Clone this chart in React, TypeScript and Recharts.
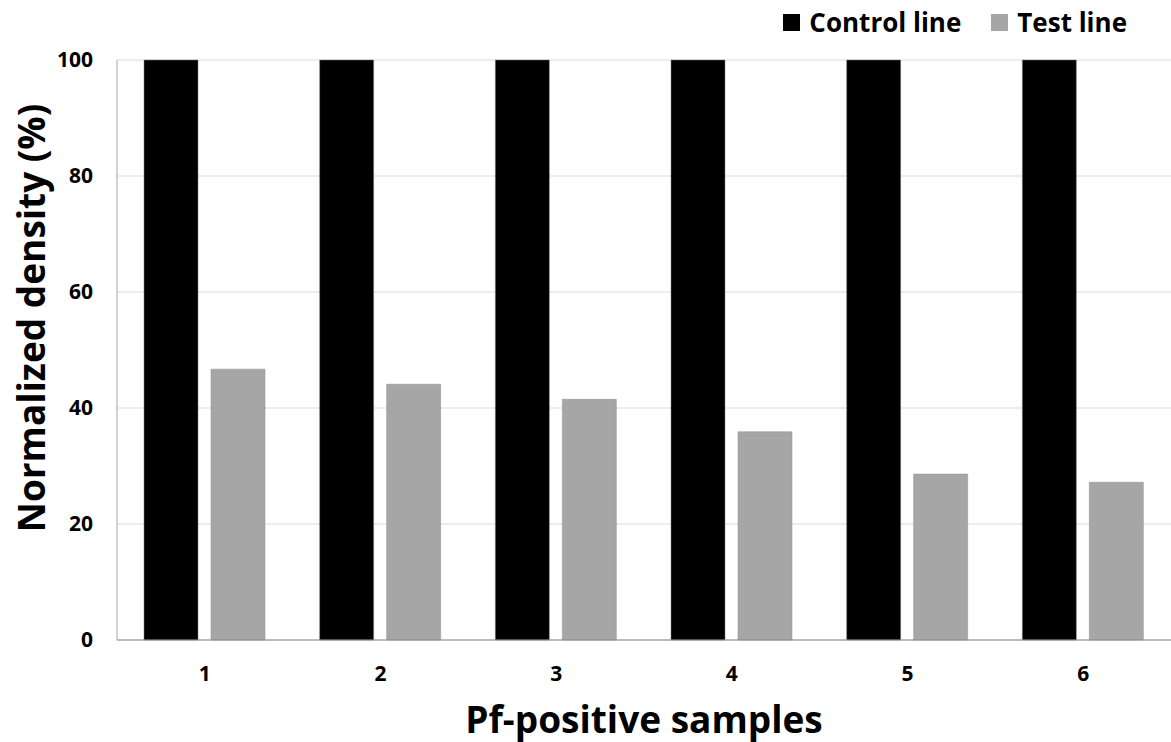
import React from 'react';
import { BarChart, Bar, XAxis, YAxis, CartesianGrid } from 'recharts';

const samples = ['1', '2', '3', '4', '5', '6'];
const controlLine = [100, 100, 100, 100, 100, 100];
const testLine = [46.7, 44.1, 41.5, 35.9, 28.6, 27.2];
const yTicks = [0, 20, 40, 60, 80, 100];
const seriesNames = ['Control line', 'Test line'];
const seriesColors = ['#000000', '#a6a6a6'];

const data = samples.map((s, i) => ({
  sample: s,
  [seriesNames[0]]: controlLine[i],
  [seriesNames[1]]: testLine[i],
}));

const FONT = '"Open Sans", "Noto Sans", sans-serif';
const titleStyle = { fontFamily: FONT, fontWeight: 700, fontSize: 37, fill: '#000' };

function LegendBox() {
  return (
    <div style={{ position: 'absolute', top: 4, right: 44, display: 'flex', gap: 30, fontFamily: FONT, fontWeight: 700, fontSize: 26, color: '#000' }}>
      {seriesNames.map((name, i) => (
        <div key={name} style={{ display: 'flex', alignItems: 'center', gap: 9 }}>
          <span style={{ width: 17, height: 17, background: seriesColors[i], display: 'inline-block' }} />
          <span>{name}</span>
        </div>
      ))}
    </div>
  );
}

export default function App() {
  return (
    <div style={{ position: 'fixed', left: 0, top: 0, width: 1171, height: 742, background: '#fff' }}>
      <BarChart
        width={1171}
        height={742}
        data={data}
        margin={{ top: 60, right: 0, bottom: 72, left: 0 }}
        barGap={13}
        barSize={54}
      >
        <CartesianGrid vertical={false} stroke="#d9d9d9" />
        <XAxis
          dataKey="sample"
          height={30}
          stroke="#8c8c8c"
          tickLine={false}
          tick={{ fontFamily: FONT, fontWeight: 700, fontSize: 21, fill: '#000' }}
          tickMargin={20}
          label={(props: any) => {
            const vb = props.viewBox;
            return (
              <text x={vb.x + vb.width / 2} y={718} textAnchor="middle" dominantBaseline="central" style={titleStyle}>
                Pf-positive samples
              </text>
            );
          }}
        />
        <YAxis
          width={117}
          domain={[0, 100]}
          ticks={yTicks}
          stroke="#a6a6a6"
          tickLine={false}
          tick={{ fontFamily: FONT, fontWeight: 700, fontSize: 21, fill: '#000' }}
          tickMargin={18}
          label={() => {
            const cy = 318;
            return (
              <text x={30} y={cy} transform={`rotate(-90, 30, ${cy})`} textAnchor="middle" dominantBaseline="central" style={titleStyle}>
                Normalized density (%)
              </text>
            );
          }}
        />
        <Bar dataKey={seriesNames[0]} fill={seriesColors[0]} stroke="#7f7f7f" strokeWidth={0.5} isAnimationActive={false} />
        <Bar dataKey={seriesNames[1]} fill={seriesColors[1]} stroke="#8c8c8c" strokeWidth={0.5} isAnimationActive={false} />
      </BarChart>
      <LegendBox />
    </div>
  );
}
